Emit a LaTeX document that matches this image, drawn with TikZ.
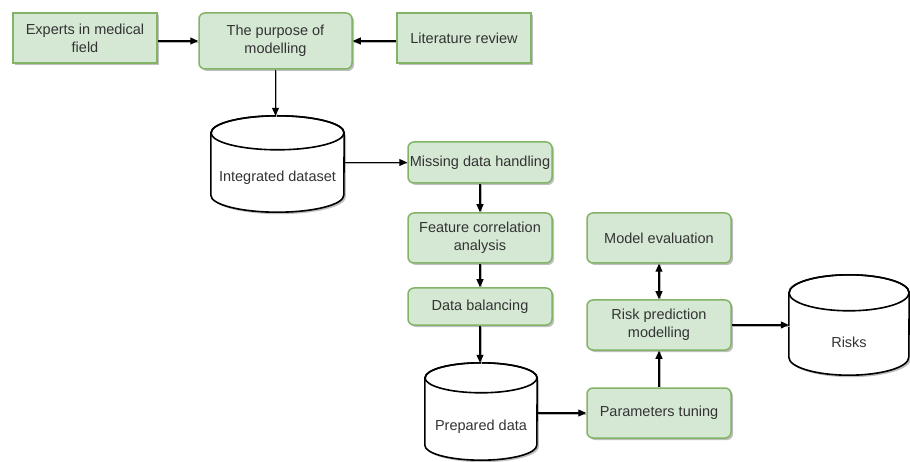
\documentclass[tikz,border=0pt]{standalone}
\usepackage{fontspec}
\setmainfont{Liberation Sans}
\usetikzlibrary{arrows.meta,shadows,calc}
\definecolor{boxfill}{RGB}{213,232,212}
\definecolor{boxline}{RGB}{130,179,102}
\definecolor{txt}{RGB}{51,51,51}
\begin{document}
\begin{tikzpicture}[x=1pt,y=1pt,
  font=\fontsize{14.5}{18}\selectfont, text=txt,
  sbox/.style={draw=boxline, fill=boxfill, line width=1.5pt, align=center, inner sep=0pt,
    drop shadow={shadow xshift=2pt, shadow yshift=-2pt, fill=black, opacity=0.25}},
  rbox/.style={sbox, rounded corners=6pt},
  holder/.style={inner sep=0pt},
  arr/.style={-{Triangle[length=8pt,width=7pt]}, line width=1.1pt, black,
    preaction={draw=black!30, line width=1.1pt, -, transform canvas={xshift=1.2pt,yshift=-1.2pt}}},
  darr/.style={{Triangle[length=8pt,width=7pt]}-{Triangle[length=8pt,width=7pt]}, line width=1.1pt, black,
    preaction={draw=black!30, line width=1.1pt, -, transform canvas={xshift=1.2pt,yshift=-1.2pt}}},
  cyl/.style={draw=black, fill=white, line width=1.6pt}
]
\useasboundingbox (0,0) rectangle (910,-462);

% boxes
\node[sbox, minimum width=144, minimum height=50] (experts) at (85,-38) {Experts in medical\\field};
\node[rbox, minimum width=153, minimum height=56] (purpose) at (275.5,-41) {The purpose of\\modelling};
\node[sbox, minimum width=134, minimum height=50] (lit) at (464,-38) {Literature review};
\node[rbox, minimum width=144, minimum height=41] (missing) at (480,-162.5) {Missing data handling};
\node[rbox, minimum width=144, minimum height=50] (feature) at (480,-238) {Feature correlation\\analysis};
\node[rbox, minimum width=144, minimum height=37] (balance) at (480,-306.5) {Data balancing};
\node[rbox, minimum width=144, minimum height=50] (modeleval) at (659,-238) {Model evaluation};
\node[rbox, minimum width=144, minimum height=50] (riskpred) at (659,-325) {Risk prediction\\modelling};
\node[rbox, minimum width=144, minimum height=50] (params) at (659,-413) {Parameters tuning};

% cylinder holders
\node[holder, minimum width=133, minimum height=96] (integ) at (277.5,-164) {};
\node[holder, minimum width=112, minimum height=97] (prep) at (481,-411.5) {};
\node[holder, minimum width=120, minimum height=100] (risks) at (849,-325) {};

% cylinders
\foreach \n/\rx/\ry in {integ/66.5/17, prep/56/15, risks/60/18} {
  \fill[black, opacity=0.25] ($(\n.north west)+(2,-\ry-2)$) -- ($(\n.south west)+(2,\ry-2)$)
     arc[start angle=180, end angle=360, x radius=\rx pt, y radius=\ry pt]
     -- ($(\n.north east)+(2,-\ry-2)$) -- cycle;
  \draw[cyl] ($(\n.north west)+(0,-\ry)$) -- ($(\n.south west)+(0,\ry)$)
     arc[start angle=180, end angle=360, x radius=\rx pt, y radius=\ry pt]
     -- ($(\n.north east)+(0,-\ry)$)
     arc[start angle=0, end angle=180, x radius=\rx pt, y radius=\ry pt] -- cycle;
  \draw[cyl, fill=none] ($(\n.north)+(0,-\ry)$) ellipse[x radius=\rx pt, y radius=\ry pt];
}
\node (integt) at ($(integ.center)+(0,-14)$) {Integrated dataset};
\node (prept) at ($(prep.center)+(0,-15)$) {Prepared data};
\node (riskst) at ($(risks.center)+(0,-17)$) {Risks};

% connectors
\draw[arr] (experts.east |- purpose.west) -- (purpose.west);
\draw[arr] (lit.west |- purpose.east) -- (purpose.east);
\draw[arr] (purpose.south) -- (purpose.south |- integ.north);
\draw[arr] (integ.east |- missing.west) -- (missing.west);
\draw[arr] (missing.south) -- (feature.north);
\draw[arr] (feature.south) -- (balance.north);
\draw[arr] (balance.south) -- (balance.south |- prep.north);
\draw[arr] (prep.east |- params.west) -- (params.west);
\draw[arr] (params.north) -- (riskpred.south);
\draw[darr] (riskpred.north) -- (modeleval.south);
\draw[arr] (riskpred.east) -- (riskpred.east -| risks.west);
\end{tikzpicture}
\end{document}
